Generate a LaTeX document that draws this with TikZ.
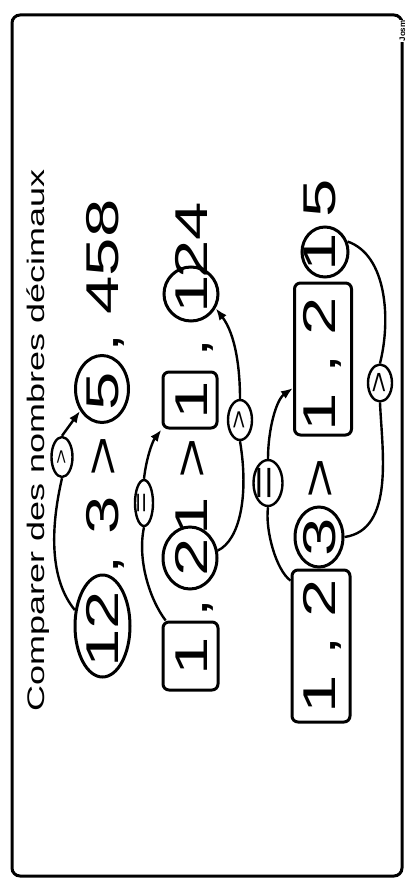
\documentclass[tikz,border=0pt]{standalone}
\usepackage{fontspec}
\setmainfont{Liberation Sans}
\usepackage{graphicx}
\usetikzlibrary{shapes.geometric, arrows.meta}
\newcommand{\sx}[1]{\scalebox{1.5}[1]{#1}}
\begin{document}
\begin{tikzpicture}[x=1pt, y=-1pt,
  outerbox/.style={draw, line width=3pt, rounded corners=8pt},
  ringshape/.style={draw, ellipse, line width=3pt, inner sep=0pt},
  boxshape/.style={draw, rectangle, rounded corners=6pt, line width=3pt, inner sep=0pt},
  tagshape/.style={draw, ellipse, line width=2.4pt, inner sep=0pt, fill=white},
  numtxt/.style={rotate=90, anchor=base, inner sep=0pt, font=\fontsize{46}{46}\selectfont},
  tagtxt/.style={rotate=90, inner sep=0pt},
  linkline/.style={line width=2.4pt},
  arrline/.style={linkline, -{Latex[length=12pt,width=9pt]}},
]
\useasboundingbox (0,0) rectangle (405,880);
\draw[outerbox] (12,15) rectangle (402,876);

% title and signature
\node[rotate=90, anchor=base, inner sep=0pt, font=\fontsize{24}{24}\selectfont] (title) at (44,440) {\sx{Comparer des nombres décimaux}};
\node[rotate=90, anchor=base, inner sep=1pt, fill=white, font=\bfseries\fontsize{8}{8}\selectfont] (josm) at (405,31) {Josm};

% shapes
\node[ringshape, minimum width=55, minimum height=102] (E12) at (102.5,626) {};
\node[ringshape, minimum width=53, minimum height=67] (C5) at (102,389) {};
\node[boxshape, minimum width=55, minimum height=68] (B1a) at (190.5,656) {};
\node[ringshape, minimum width=54, minimum height=62] (C2) at (190,558) {};
\node[boxshape, minimum width=54, minimum height=56] (B1b) at (190,400) {};
\node[ringshape, minimum width=54, minimum height=54] (C1a) at (191,294) {};
\node[boxshape, minimum width=58, minimum height=152] (B12a) at (321,646) {};
\node[ringshape, minimum width=48, minimum height=60] (C3) at (319,537) {};
\node[boxshape, minimum width=57, minimum height=152] (B12b) at (323,359) {};
\node[ringshape, minimum width=46, minimum height=50] (C1b) at (325,252) {};

% row 1
\node[numtxt] (t12) at (118,629) {\sx{12}};
\node[numtxt] (tca) at (118,565) {\sx{,}};
\node[numtxt] (t3) at (118,515) {\sx{3}};
\node[numtxt] (tga) at (118,456) {\sx{>}};
\node[numtxt] (t5) at (118,391) {\sx{5}};
\node[numtxt] (tcb) at (118,343) {\sx{,}};
\node[numtxt] (t458) at (118,257) {\sx{458}};

% row 2
\node[numtxt] (u1) at (207,656) {\sx{1}};
\node[numtxt] (uca) at (207,608) {\sx{,}};
\node[numtxt] (u2) at (207,557) {\sx{2}};
\node[numtxt] (u1b) at (207,516) {\sx{1}};
\node[numtxt] (uga) at (207,458) {\sx{>}};
\node[numtxt] (u1c) at (207,400) {\sx{1}};
\node[numtxt] (ucb) at (207,348) {\sx{,}};
\node[numtxt] (u1d) at (207,294) {\sx{1}};
\node[numtxt] (u24) at (207,240) {\sx{24}};

% row 3
\node[numtxt] (v12) at (335,646) {\sx{1 , 2}};
\node[numtxt] (v3) at (335,537) {\sx{3}};
\node[numtxt] (vga) at (335,478) {\sx{>}};
\node[numtxt] (v12b) at (335,364) {\sx{1 , 2}};
\node[numtxt] (v1) at (335,252) {\sx{1}};
\node[numtxt] (v5) at (335,198) {\sx{5}};

% small labels
\node[tagshape, minimum width=21, minimum height=40] (L1) at (62,457) {};
\node[tagshape, minimum width=18, minimum height=46] (L2) at (144,503) {};
\node[tagshape, minimum width=24, minimum height=40] (L3) at (240,420) {};
\node[tagshape, minimum width=29, minimum height=46] (L4) at (268,483) {};
\node[tagshape, minimum width=24, minimum height=37] (L5) at (380,383) {};
\node[tagtxt, font=\fontsize{17}{17}\selectfont] (L1t) at (L1) {\sx{>}};
\node[tagtxt, font=\fontsize{24}{24}\selectfont] (L2t) at (L2) {\sx{=}};
\node[tagtxt, font=\fontsize{22}{22}\selectfont] (L3t) at (L3) {\sx{>}};
\node[tagtxt, font=\fontsize{40}{40}\selectfont] (L4t) at (L4) {\sx{=}};
\node[tagtxt, font=\fontsize{25}{25}\selectfont] (L5t) at (L5) {\sx{>}};

% connectors
\draw[linkline] (E12.150) .. controls (50,580) and (50,530) .. (L1.south);
\draw[arrline] (L1.north) -- (C5.225);
\draw[linkline] (B1a.125) .. controls (150,600) and (137,560) .. (L2.south);
\draw[arrline] (L2.north) .. controls (146,460) and (152,442) .. (B1b.south west);
\draw[linkline] (C2.15) .. controls (240,540) and (249,495) .. (L3.south);
\draw[arrline] (L3.north) .. controls (240,370) and (236,335) .. (C1a.330);
\draw[linkline] (B12a.115) .. controls (276,570) and (265,530) .. (L4.south);
\draw[arrline] (L4.north) .. controls (268,430) and (276,400) .. (B12b.224);
\draw[linkline] (C3.east) .. controls (395,530) and (382,450) .. (L5.south);
\draw[linkline] (L5.north) .. controls (391,320) and (387,255) .. (C1b.25);
\end{tikzpicture}
\end{document}
